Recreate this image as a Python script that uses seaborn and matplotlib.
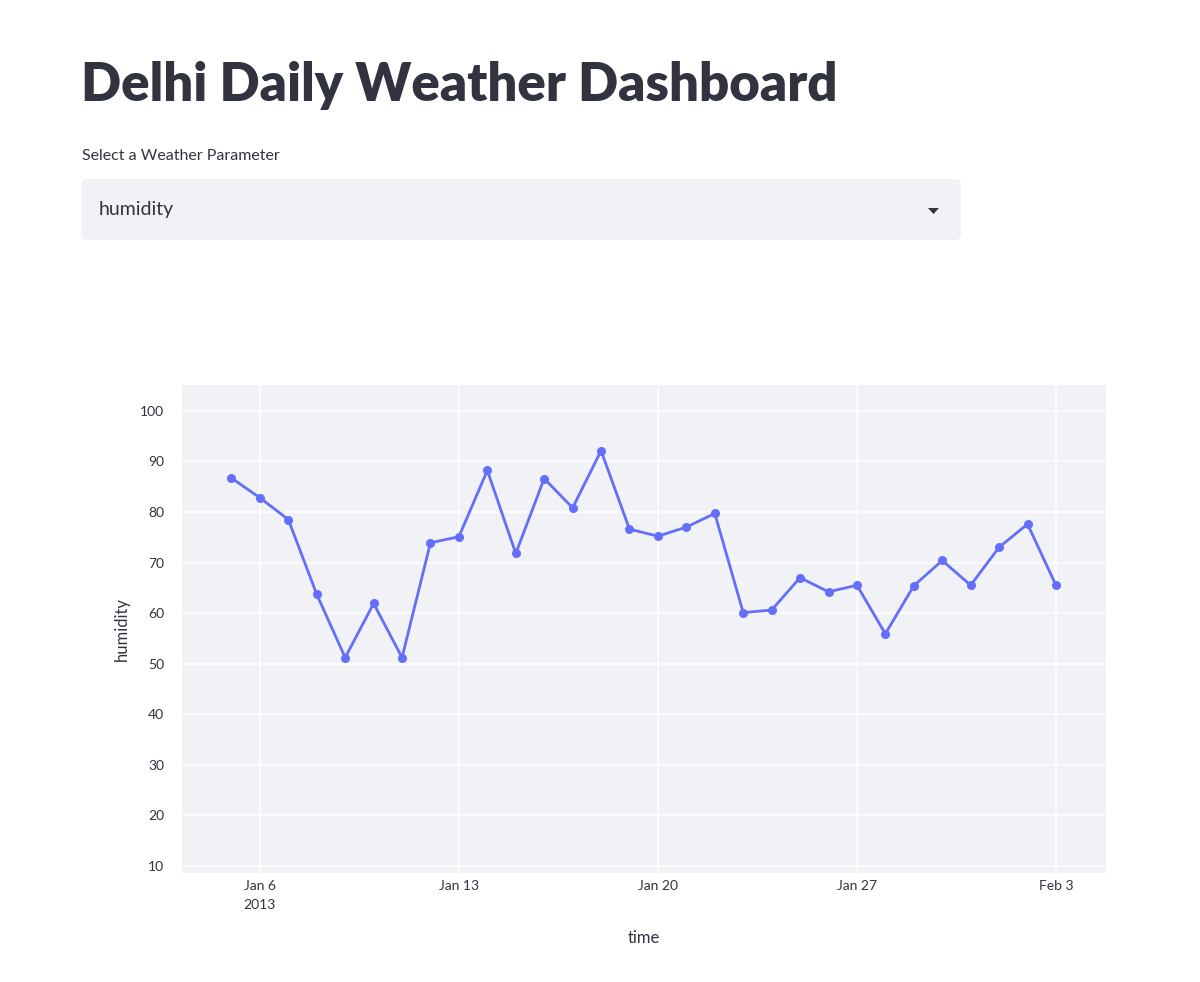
import matplotlib
matplotlib.use("Agg")
import matplotlib.pyplot as plt
from matplotlib.patches import FancyBboxPatch, Polygon
import seaborn as sns
import pandas as pd

# Data
start_date = "2013-01-05"
humidity = [86.7, 82.8, 78.5, 63.7, 51.2, 61.9, 51.2, 73.9, 75.1, 88.2,
            71.8, 86.6, 80.8, 92.1, 76.6, 75.2, 77.0, 79.7, 60.1, 60.6,
            67.0, 64.2, 65.5, 55.9, 65.4, 70.4, 65.5, 73.0, 77.6, 65.5]
tick_dates = ["2013-01-06", "2013-01-13", "2013-01-20", "2013-01-27", "2013-02-03"]
tick_labels = ["Jan 6\n2013", "Jan 13", "Jan 20", "Jan 27", "Feb 3"]
y_ticks = [10, 20, 30, 40, 50, 60, 70, 80, 90, 100]
parameter = "humidity"

df = pd.DataFrame({
    "time": pd.date_range(start_date, periods=len(humidity), freq="D"),
    parameter: humidity,
})

text_col = "#31333F"
bg_col = "#F0F2F6"
line_col = "#636EFA"

sns.set_theme(style="white")
plt.rcParams["font.family"] = ["Lato", "DejaVu Sans"]

W, H = 1200, 982
fig = plt.figure(figsize=(W / 100, H / 100), dpi=100)

# Header
fig.text(81 / W, 1 - 85 / H, "Delhi Daily Weather Dashboard", fontsize=38,
         fontweight="heavy", color=text_col, va="center", ha="left")
fig.text(82 / W, 1 - 156 / H, "Select a Weather Parameter", fontsize=11.5,
         color=text_col, va="center", ha="left")

# Select box
box = FancyBboxPatch((81 / W, 1 - 240 / H), 880 / W, 61 / H,
                     boxstyle="round,pad=0,rounding_size=0.006",
                     transform=fig.transFigure, facecolor=bg_col,
                     edgecolor="none")
fig.patches.append(box)
fig.text(99 / W, 1 - 210 / H, parameter, fontsize=14, color=text_col,
         va="center", ha="left")
arrow = Polygon([(928 / W, 1 - 208 / H), (939 / W, 1 - 208 / H),
                 (933.5 / W, 1 - 214 / H)], closed=True,
                transform=fig.transFigure, facecolor=text_col, edgecolor="none")
fig.patches.append(arrow)

# Chart
ax = fig.add_axes([182 / W, 1 - 873 / H, 924 / W, 488 / H])
ax.set_facecolor(bg_col)
sns.lineplot(data=df, x="time", y=parameter, ax=ax, color=line_col,
             linewidth=2, marker="o", markersize=6.5, markeredgewidth=0)

ax.set_xlim(pd.Timestamp("2013-01-03 06:15"), pd.Timestamp("2013-02-04 18:15"))
ax.set_ylim(8.6, 105.1)
ax.set_yticks(y_ticks)
ax.set_xticks(pd.to_datetime(tick_dates))
ax.set_xticklabels(tick_labels)
ax.grid(True, color="white", linewidth=1.1)
ax.set_axisbelow(True)
for s in ax.spines.values():
    s.set_visible(False)
ax.tick_params(axis="both", length=0, labelsize=10, colors=text_col)
ax.tick_params(axis="y", pad=13)
ax.tick_params(axis="x", pad=5)
for lbl in ax.get_xticklabels():
    lbl.set_linespacing(1.7)
ax.set_xlabel("time", fontsize=12, color=text_col, labelpad=14)
ax.set_ylabel(parameter, fontsize=12, color=text_col, labelpad=7)

fig.savefig("out.png", dpi=100)
